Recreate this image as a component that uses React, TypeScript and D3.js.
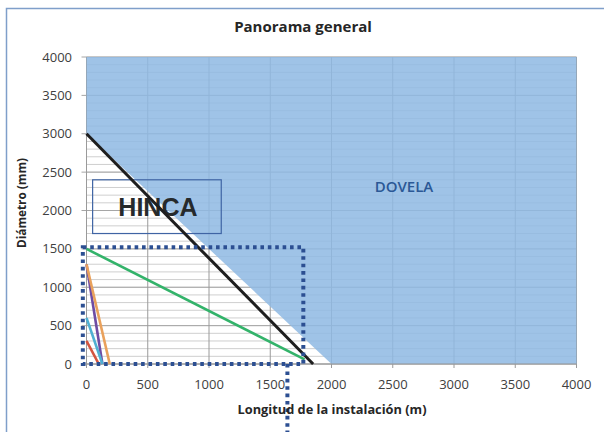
import React, { useEffect, useRef } from 'react';
import * as d3 from 'd3';

// x ticks / y ticks
const xTicks = [0, 500, 1000, 1500, 2000, 2500, 3000, 3500, 4000];
const yTicks = [0, 500, 1000, 1500, 2000, 2500, 3000, 3500, 4000];
const yMinor = d3.range(0, 4001, 100);

// DOVELA region lower boundary (area above it is filled up to 4000)
const dovelaX = [0, 2000, 4000];
const dovelaY = [3000, 0, 0];

// series lines: [x0, y0, x1, y1]
const seriesNames = ['limite', 'verde', 'morado', 'naranja', 'celeste', 'rojo'];
const seriesX0 = [0, 0, 0, 0, 0, 0];
const seriesY0 = [3000, 1500, 1300, 1300, 600, 300];
const seriesX1 = [1850, 1780, 130, 190, 130, 100];
const seriesY1 = [0, 60, 0, 0, 0, 0];
const seriesColors = ['#1e1e1e', '#33b36a', '#6e4ca3', '#e9a15c', '#4fb0d2', '#d4543f'];

// HINCA box corners
const hincaBox = [50, 2400, 1100, 1700];
// dotted annotation rectangle + vertical dotted line
const dotRect = [-30, 1520, 1770, 0];
const dotLineX = 1640;

const App = () => {
  const svgRef = useRef<SVGSVGElement>(null);

  useEffect(() => {
    const svg = d3.select(svgRef.current);
    svg.selectAll('*').remove();

    const x = d3.scaleLinear().domain([0, 4000]).range([86.5, 576.5]);
    const y = d3.scaleLinear().domain([0, 4000]).range([364, 57]);
    const font = "'Open Sans', sans-serif";

    // frame
    svg.append('rect')
      .attr('x', 6.5).attr('y', 8.5)
      .attr('width', 620).attr('height', 450)
      .attr('fill', '#fff')
      .attr('stroke', '#7f9fca')
      .attr('stroke-width', 1.5);

    const g = svg.append('g');

    // minor horizontal grid
    g.selectAll('line.minor')
      .data(yMinor)
      .enter()
      .append('line')
      .attr('x1', x(0)).attr('x2', x(4000))
      .attr('y1', (d) => y(d)).attr('y2', (d) => y(d))
      .attr('stroke', '#cfcfcf')
      .attr('stroke-width', 1);

    // major grid
    g.selectAll('line.hmaj')
      .data(yTicks)
      .enter()
      .append('line')
      .attr('x1', x(0) - 5).attr('x2', x(4000))
      .attr('y1', (d) => y(d)).attr('y2', (d) => y(d))
      .attr('stroke', '#a6a6a6');
    g.selectAll('line.vmaj')
      .data(xTicks)
      .enter()
      .append('line')
      .attr('x1', (d) => x(d)).attr('x2', (d) => x(d))
      .attr('y1', y(4000)).attr('y2', y(0) + 4)
      .attr('stroke', '#9a9a9a');

    // DOVELA area
    const pts = dovelaX.map((d, i) => [d, dovelaY[i]] as [number, number]);
    const area = d3.area<[number, number]>()
      .x((d) => x(d[0]))
      .y0(() => y(4000))
      .y1((d) => y(d[1]));
    g.append('path')
      .attr('d', area(pts) as string)
      .attr('fill', '#8fb9e3')
      .attr('fill-opacity', 0.86);

    // axis line
    g.append('line')
      .attr('x1', x(0)).attr('x2', x(4000))
      .attr('y1', y(0)).attr('y2', y(0))
      .attr('stroke', '#9a9a9a');

    // HINCA box
    g.append('rect')
      .attr('x', x(hincaBox[0])).attr('y', y(hincaBox[1]))
      .attr('width', x(hincaBox[2]) - x(hincaBox[0]))
      .attr('height', y(hincaBox[3]) - y(hincaBox[1]))
      .attr('fill', 'none')
      .attr('stroke', '#3f64a4')
      .attr('stroke-width', 1.2);
    g.append('text')
      .attr('x', (x(hincaBox[0]) + x(hincaBox[2])) / 2 + 1)
      .attr('y', (y(hincaBox[1]) + y(hincaBox[3])) / 2 + 9)
      .attr('text-anchor', 'middle')
      .attr('font-family', "'Liberation Sans', Arial, sans-serif")
      .attr('font-weight', 'bold')
      .attr('font-size', '25px')
      .attr('fill', '#262a2c')
      .text('HINCA');

    g.append('text')
      .attr('x', 404).attr('y', 192)
      .attr('text-anchor', 'middle')
      .attr('font-family', font)
      .attr('font-weight', 600)
      .attr('font-size', '15px')
      .attr('fill', '#2b5896')
      .text('DOVELA');

    // series lines
    g.selectAll('line.series')
      .data(seriesNames)
      .enter()
      .append('line')
      .attr('x1', (_d, i) => x(seriesX0[i]))
      .attr('y1', (_d, i) => y(seriesY0[i]))
      .attr('x2', (_d, i) => x(seriesX1[i]))
      .attr('y2', (_d, i) => y(seriesY1[i]))
      .attr('stroke', (_d, i) => seriesColors[i])
      .attr('stroke-width', (_d, i) => (i === 0 ? 3 : 2.6));

    // dotted annotation
    const dotted = (sel: any) =>
      sel.attr('fill', 'none')
        .attr('stroke', '#2c4f92')
        .attr('stroke-width', 4)
        .attr('stroke-dasharray', '3.6 3.8');
    dotted(g.append('rect')
      .attr('x', x(dotRect[0])).attr('y', y(dotRect[1]))
      .attr('width', x(dotRect[2]) - x(dotRect[0]))
      .attr('height', y(dotRect[3]) - y(dotRect[1])));
    dotted(g.append('line')
      .attr('x1', x(dotLineX)).attr('x2', x(dotLineX))
      .attr('y1', y(0)).attr('y2', 440));

    // tick labels
    g.selectAll('text.yt')
      .data(yTicks)
      .enter()
      .append('text')
      .attr('x', 72)
      .attr('y', (d) => y(d) + 4.5)
      .attr('text-anchor', 'end')
      .attr('font-family', font)
      .attr('font-size', '13px')
      .attr('fill', '#404040')
      .text((d) => d);
    g.selectAll('text.xt')
      .data(xTicks)
      .enter()
      .append('text')
      .attr('x', (d) => x(d))
      .attr('y', 388.5)
      .attr('text-anchor', 'middle')
      .attr('font-family', font)
      .attr('font-size', '13px')
      .attr('fill', '#404040')
      .text((d) => d);

    // titles
    svg.append('text')
      .attr('x', 303).attr('y', 32)
      .attr('text-anchor', 'middle')
      .attr('font-family', font)
      .attr('font-weight', 'bold')
      .attr('font-size', '15px')
      .attr('fill', '#262626')
      .text('Panorama general');
    svg.append('text')
      .attr('x', 332).attr('y', 414)
      .attr('text-anchor', 'middle')
      .attr('font-family', font)
      .attr('font-weight', 'bold')
      .attr('font-size', '12.8px')
      .attr('fill', '#262626')
      .text('Longitud de la instalación (m)');
    svg.append('text')
      .attr('transform', 'translate(26,203) rotate(-90)')
      .attr('text-anchor', 'middle')
      .attr('font-family', font)
      .attr('font-weight', 'bold')
      .attr('font-size', '11.8px')
      .attr('fill', '#262626')
      .text('Diámetro (mm)');
  }, []);

  return (
    <svg
      ref={svgRef}
      width={604}
      height={432}
      style={{ position: 'absolute', left: 0, top: 0, background: '#fff' }}
    />
  );
};

export default App;
